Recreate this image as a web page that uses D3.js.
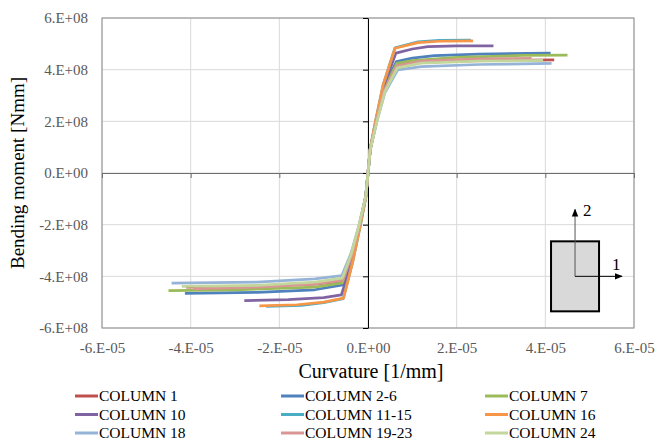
<!DOCTYPE html>
<html>
<head>
<meta charset="utf-8">
<script src="https://cdn.jsdelivr.net/npm/d3@7"></script>
<style>
  html, body { margin: 0; padding: 0; background: #fff; }
  svg { display: block; }
</style>
</head>
<body>
<svg id="chart" width="657" height="441"></svg>
<script>
// Moment–curvature curves, [curvature (1/mm), bending moment (Nmm)]
const col1 = [[-4.10e-5,-4.42e8],[-2.5e-5,-4.38e8],[-1.2e-5,-4.30e8],[-0.58e-5,-4.20e8],[-0.36e-5,-3.25e8],[-0.19e-5,-2.0e8],[-0.05e-5,-0.9e8],[0,0],[0.05e-5,0.9e8],[0.19e-5,2.0e8],[0.36e-5,3.25e8],[0.65e-5,4.20e8],[1.2e-5,4.30e8],[2.5e-5,4.35e8],[4.2e-5,4.38e8]];
const col2to6 = [[-4.13e-5,-4.66e8],[-2.5e-5,-4.62e8],[-1.2e-5,-4.52e8],[-0.57e-5,-4.33e8],[-0.35e-5,-3.3e8],[-0.18e-5,-2.0e8],[-0.05e-5,-0.9e8],[0,0],[0.05e-5,0.9e8],[0.18e-5,2.0e8],[0.35e-5,3.3e8],[0.64e-5,4.31e8],[1.0e-5,4.45e8],[1.5e-5,4.54e8],[2.5e-5,4.60e8],[4.12e-5,4.64e8]];
const col7 = [[-4.50e-5,-4.55e8],[-3.0e-5,-4.52e8],[-1.2e-5,-4.42e8],[-0.57e-5,-4.25e8],[-0.36e-5,-3.25e8],[-0.19e-5,-2.0e8],[-0.05e-5,-0.9e8],[0,0],[0.05e-5,0.9e8],[0.19e-5,2.0e8],[0.36e-5,3.25e8],[0.65e-5,4.24e8],[1.0e-5,4.35e8],[2.0e-5,4.48e8],[3.5e-5,4.55e8],[4.50e-5,4.56e8]];
const col10 = [[-2.79e-5,-4.94e8],[-1.8e-5,-4.90e8],[-1.0e-5,-4.82e8],[-0.60e-5,-4.72e8],[-0.35e-5,-3.35e8],[-0.18e-5,-2.0e8],[-0.05e-5,-0.9e8],[0,0],[0.05e-5,0.9e8],[0.18e-5,2.0e8],[0.35e-5,3.35e8],[0.63e-5,4.64e8],[1.0e-5,4.80e8],[1.35e-5,4.89e8],[2.0e-5,4.92e8],[2.83e-5,4.92e8]];
const col11to15 = [[-2.30e-5,-5.16e8],[-1.5e-5,-5.12e8],[-1.0e-5,-5.02e8],[-0.56e-5,-4.86e8],[-0.34e-5,-3.4e8],[-0.17e-5,-2.0e8],[-0.045e-5,-0.9e8],[0,0],[0.045e-5,0.9e8],[0.17e-5,2.0e8],[0.34e-5,3.4e8],[0.61e-5,4.85e8],[1.13e-5,5.08e8],[1.6e-5,5.13e8],[2.32e-5,5.14e8]];
const col16 = [[-2.45e-5,-5.14e8],[-1.6e-5,-5.10e8],[-1.0e-5,-5.00e8],[-0.55e-5,-4.84e8],[-0.34e-5,-3.4e8],[-0.17e-5,-2.0e8],[-0.045e-5,-0.9e8],[0,0],[0.045e-5,0.9e8],[0.17e-5,2.0e8],[0.34e-5,3.4e8],[0.61e-5,4.83e8],[1.13e-5,5.05e8],[1.6e-5,5.10e8],[2.37e-5,5.11e8]];
const col18 = [[-4.43e-5,-4.26e8],[-2.5e-5,-4.22e8],[-1.2e-5,-4.10e8],[-0.59e-5,-3.97e8],[-0.38e-5,-3.1e8],[-0.20e-5,-2.0e8],[-0.05e-5,-0.9e8],[0,0],[0.05e-5,0.9e8],[0.20e-5,2.0e8],[0.38e-5,3.1e8],[0.67e-5,3.99e8],[1.2e-5,4.12e8],[2.5e-5,4.20e8],[4.14e-5,4.24e8]];
const col19to23 = [[-3.94e-5,-4.49e8],[-2.5e-5,-4.42e8],[-1.2e-5,-4.30e8],[-0.57e-5,-4.15e8],[-0.37e-5,-3.2e8],[-0.19e-5,-2.0e8],[-0.05e-5,-0.9e8],[0,0],[0.05e-5,0.9e8],[0.19e-5,2.0e8],[0.37e-5,3.2e8],[0.65e-5,4.15e8],[1.2e-5,4.33e8],[2.5e-5,4.42e8],[3.69e-5,4.44e8]];
const col24 = [[-4.20e-5,-4.39e8],[-2.5e-5,-4.35e8],[-1.2e-5,-4.22e8],[-0.58e-5,-4.07e8],[-0.38e-5,-3.15e8],[-0.20e-5,-2.0e8],[-0.05e-5,-0.9e8],[0,0],[0.05e-5,0.9e8],[0.20e-5,2.0e8],[0.38e-5,3.15e8],[0.66e-5,4.07e8],[1.2e-5,4.25e8],[2.5e-5,4.33e8],[3.95e-5,4.36e8]];

const seriesNames = ["COLUMN 1","COLUMN 2-6","COLUMN 7","COLUMN 10","COLUMN 11-15","COLUMN 16","COLUMN 18","COLUMN 19-23","COLUMN 24"];
const seriesData = [col1, col2to6, col7, col10, col11to15, col16, col18, col19to23, col24];
const seriesColors = ["#C0504D","#4F81BD","#9BBB59","#8064A2","#4BACC6","#F79646","#95B3D7","#D99694","#C3D69B"];

const xTicks = [-6e-5,-4e-5,-2e-5,0,2e-5,4e-5,6e-5];
const xTickLabels = ["-6.E-05","-4.E-05","-2.E-05","0.E+00","2.E-05","4.E-05","6.E-05"];
const yTicks = [-6e8,-4e8,-2e8,0,2e8,4e8,6e8];
const yTickLabels = ["-6.E+08","-4.E+08","-2.E+08","0.E+00","2.E+08","4.E+08","6.E+08"];

const xTitle = "Curvature [1/mm]";
const yTitle = "Bending moment [Nmm]";

// Section sketch with local axes, anchored in data units
const sectionAnchor = [4.67e-5, -4.0e8];

const FONT = "'Liberation Serif', Tinos, 'Times New Roman', 'DejaVu Serif', serif";

const svg = d3.select("#chart");
const plot = { left: 102, right: 634, top: 18, bottom: 328 };

const x = d3.scaleLinear().domain([-6e-5, 6e-5]).range([plot.left, plot.right]);
const y = d3.scaleLinear().domain([-6e8, 6e8]).range([plot.bottom, plot.top]);

const tickFmtX = d => xTickLabels[xTicks.indexOf(d)];
const tickFmtY = d => yTickLabels[yTicks.indexOf(d)];

// gridlines
const grid = svg.append("g");
grid.selectAll("line.gx").data(xTicks).join("line")
  .attr("x1", d => x(d)).attr("x2", d => x(d))
  .attr("y1", plot.top).attr("y2", plot.bottom)
  .attr("stroke", "#d9d9d9").attr("stroke-width", 1);
grid.selectAll("line.gy").data(yTicks).join("line")
  .attr("x1", plot.left).attr("x2", plot.right)
  .attr("y1", d => y(d)).attr("y2", d => y(d))
  .attr("stroke", "#d9d9d9").attr("stroke-width", 1);

// plot border
svg.append("rect")
  .attr("x", plot.left).attr("y", plot.top)
  .attr("width", plot.right - plot.left).attr("height", plot.bottom - plot.top)
  .attr("fill", "none").attr("stroke", "#8c8c8c").attr("stroke-width", 1);

// tick labels along the outer edges
const xLab = d3.axisBottom(x).tickValues(xTicks).tickFormat(tickFmtX).tickSize(0).tickPadding(14);
const gxl = svg.append("g").attr("transform", `translate(0,${plot.bottom})`).call(xLab);
gxl.select(".domain").remove();
gxl.selectAll("text").style("font-family", FONT).style("font-size", "15px").attr("fill", "#595959");

const yLab = d3.axisLeft(y).tickValues(yTicks).tickFormat(tickFmtY).tickSize(0).tickPadding(14);
const gyl = svg.append("g").attr("transform", `translate(${plot.left},0)`).call(yLab);
gyl.select(".domain").remove();
gyl.selectAll("text").style("font-family", FONT).style("font-size", "15px").attr("fill", "#595959");

// axes crossing at the origin
const xAxis = d3.axisBottom(x).tickValues(xTicks).tickFormat("").tickSizeInner(5).tickSizeOuter(0);
const gx = svg.append("g").attr("transform", `translate(0,${y(0)})`).call(xAxis);
gx.select(".domain").attr("stroke", "#6e6e6e");
gx.selectAll(".tick line").attr("stroke", "#6e6e6e");

const yAxis = d3.axisLeft(y).tickValues(yTicks).tickFormat("").tickSizeInner(5).tickSizeOuter(0);
const gy = svg.append("g").attr("transform", `translate(${x(0)},0)`).call(yAxis);
gy.select(".domain").attr("stroke", "#000");
gy.selectAll(".tick line").attr("stroke", "#000");

// curves
const line = d3.line().x(d => x(d[0])).y(d => y(d[1])).curve(d3.curveLinear);
svg.append("g").selectAll("path").data(seriesData).join("path")
  .attr("d", line)
  .attr("fill", "none")
  .attr("stroke", (d, i) => seriesColors[i])
  .attr("stroke-width", 2.75)
  .attr("stroke-linejoin", "round")
  .attr("stroke-linecap", "butt");

// axis titles
svg.append("text")
  .attr("x", x(0) + 3).attr("y", 378)
  .attr("text-anchor", "middle").attr("fill", "#000")
  .style("font-family", FONT).style("font-size", "20px")
  .text(xTitle);
svg.append("text")
  .attr("transform", `translate(24,${y(0)}) rotate(-90)`)
  .attr("text-anchor", "middle").attr("fill", "#000")
  .style("font-family", FONT).style("font-size", "19px")
  .text(yTitle);

// section sketch
const sx = x(sectionAnchor[0]), sy = y(sectionAnchor[1]);
const defs = svg.append("defs");
defs.append("marker").attr("id", "arrowHead")
  .attr("viewBox", "0 0 10 10").attr("refX", 9).attr("refY", 5)
  .attr("markerWidth", 8).attr("markerHeight", 8).attr("orient", "auto")
  .attr("markerUnits", "userSpaceOnUse")
  .append("path").attr("d", "M0,1 L10,5 L0,9 Z").attr("fill", "#000");

const sketch = svg.append("g");
sketch.append("rect")
  .attr("x", sx - 24).attr("y", sy - 35).attr("width", 48).attr("height", 70)
  .attr("fill", "#d9d9d9").attr("stroke", "#000").attr("stroke-width", 2);
sketch.append("line")
  .attr("x1", sx).attr("y1", sy).attr("x2", sx).attr("y2", sy - 67)
  .attr("stroke", "#555").attr("stroke-width", 1).attr("marker-end", "url(#arrowHead)");
sketch.append("line")
  .attr("x1", sx).attr("y1", sy).attr("x2", sx + 47).attr("y2", sy)
  .attr("stroke", "#000").attr("stroke-width", 1).attr("marker-end", "url(#arrowHead)");
sketch.append("text").attr("x", sx + 8).attr("y", sy - 60)
  .style("font-family", FONT).style("font-size", "17px").attr("fill", "#000").text("2");
sketch.append("text").attr("x", sx + 37).attr("y", sy - 6)
  .style("font-family", FONT).style("font-size", "17px").attr("fill", "#000").text("1");

// legend, three columns
const legendCols = [75, 281, 485];
const legendRows = [396, 414.5, 433];
const legend = svg.append("g").selectAll("g").data(seriesNames).join("g")
  .attr("transform", (d, i) => `translate(${legendCols[i % 3]},${legendRows[Math.floor(i / 3)]})`);
legend.append("line")
  .attr("x1", 0).attr("x2", 23).attr("y1", 0).attr("y2", 0)
  .attr("stroke", (d, i) => seriesColors[i]).attr("stroke-width", 3);
legend.append("text")
  .attr("x", 24).attr("y", 0).attr("dy", "0.35em")
  .style("font-family", FONT).style("font-size", "15.5px").attr("fill", "#000")
  .text(d => d);
</script>
</body>
</html>
